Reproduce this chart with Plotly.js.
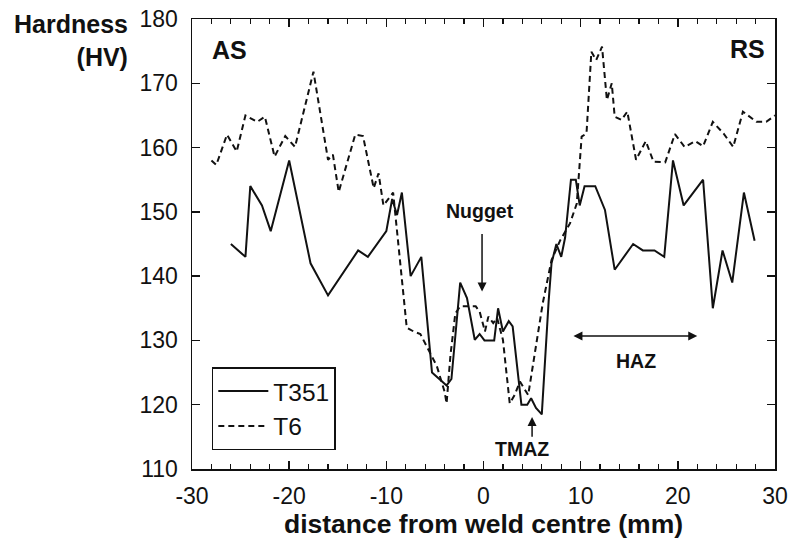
<!DOCTYPE html>
<html>
<head>
<meta charset="utf-8">
<script src="https://cdn.plot.ly/plotly-3.0.1.min.js"></script>
<style>html,body{margin:0;padding:0;background:#fff}#chart{width:795px;height:545px}</style>
</head>
<body>
<div id="chart"></div>
<script>
// T351 series
const t351X = [-26, -24.5, -24, -22.8, -21.9, -20, -17.8, -16, -12.9, -11.9, -10, -9.4, -8.9, -8.4, -7.5, -6.4, -5.3, -4.5, -3.8, -3.3, -2.4, -1.7, -0.9, -0.4, 0.1, 1.1, 1.5, 2.0, 2.6, 3.0, 3.9, 4.5, 4.9, 5.4, 6.0, 6.7, 7.0, 7.5, 8.0, 8.4, 9.0, 9.5, 9.9, 10.4, 11.5, 12.5, 13.5, 15.4, 16.4, 17.6, 18.6, 19.5, 20.6, 22.6, 23.6, 24.6, 25.6, 26.8, 27.9];
const t351Y = [145, 143, 154, 151, 147, 158, 142, 137, 144, 143, 147, 152, 149.5, 153, 140, 143, 125, 124, 123, 124, 139, 136.6, 130.1, 131, 130, 130, 135, 131.4, 133, 132.2, 120, 120, 121, 119.5, 118.5, 136, 142, 145, 143, 146, 155, 155, 151, 154, 154, 150.3, 141, 145, 144, 144, 143, 158, 151, 155, 135, 144, 139, 153, 145.5];
// T6 series
const t6X = [-28, -27.5, -26.4, -25.4, -24.5, -23.3, -22.5, -21.5, -20.4, -19.4, -17.5, -16.0, -15.5, -14.9, -13.2, -12.4, -11.3, -10.8, -10.3, -9.3, -7.9, -7.2, -6.5, -5.9, -4.8, -4.0, -3.8, -3.4, -2.9, -2.4, -0.8, -0.4, 0.15, 0.5, 1.0, 1.4, 2.0, 2.7, 3.2, 3.75, 4.6, 6.1, 7.0, 7.9, 8.4, 8.9, 9.6, 10.1, 10.6, 11.1, 11.6, 12.2, 12.7, 13.2, 13.5, 14.2, 14.8, 15.7, 16.7, 17.5, 18.7, 19.7, 20.7, 21.8, 22.6, 23.6, 24.7, 25.7, 26.7, 28.1, 29.1, 30];
const t6Y = [158, 157.3, 162, 159.4, 165, 164, 164.8, 158.6, 161.8, 160.1, 171.8, 158.1, 158.9, 153.1, 162, 161.8, 153.7, 156, 151, 153, 132, 131.4, 131, 129.3, 126, 122, 120.2, 127.7, 134.2, 135.3, 135.3, 134.5, 131.4, 133.7, 132.7, 133.5, 130.1, 120.2, 121.5, 123.6, 121.5, 135.8, 142.5, 145.6, 147, 148.2, 151.3, 161.7, 162.2, 174.9, 173.6, 175.7, 167.4, 170, 164.8, 164.3, 165.6, 158.1, 161, 157.8, 157.7, 162.1, 160.1, 161, 160.2, 164, 162.2, 160.1, 165.6, 164, 164, 165];
const seriesNames = ["T351", "T6"];
const xTickVals = [-30, -20, -10, 0, 10, 20, 30];
const yTickVals = [110, 120, 130, 140, 150, 160, 170, 180];
const xRange = [-30, 30];
const yRange = [110, 180];

const FONT = "Liberation Sans, Arial, Helvetica, sans-serif";

const traces = [
  {x: t351X, y: t351Y, name: seriesNames[0], type: "scatter", mode: "lines",
   line: {color: "#111", width: 2}},
  {x: t6X, y: t6Y, name: seriesNames[1], type: "scatter", mode: "lines",
   line: {color: "#111", width: 2, dash: "6px,4px"}},
  // empty trace only to bind the mirrored top/right frame axes
  {x: [], y: [], xaxis: "x2", yaxis: "y2", type: "scatter", mode: "lines",
   showlegend: false, hoverinfo: "skip"}
];

const axisCommon = {
  showline: true, linecolor: "#111", linewidth: 1.5,
  ticks: "inside", ticklen: 8, tickwidth: 1.5, tickcolor: "#111",
  showgrid: false, zeroline: false,
  tickfont: {family: FONT, size: 23, color: "#111"}
};
const xMinor = {dtick: 2, ticks: "inside", ticklen: 5, tickwidth: 1.2, tickcolor: "#111", showgrid: false};

const layout = {
  width: 795, height: 545,
  margin: {l: 192, r: 20, t: 19, b: 76},
  paper_bgcolor: "#fff", plot_bgcolor: "#fff",
  font: {family: FONT, color: "#111"},
  xaxis: Object.assign({}, axisCommon, {
    range: xRange, tickvals: xTickVals, ticktext: xTickVals.map(String),
    minor: xMinor,
    ticklabelstandoff: 6,
    title: {text: "distance from weld centre (mm)", font: {family: FONT, size: 26.5, weight: "bold", color: "#111"}, standoff: 3}
  }),
  xaxis2: Object.assign({}, axisCommon, {
    overlaying: "x", side: "top", range: xRange, tickvals: xTickVals,
    minor: xMinor, showticklabels: false
  }),
  yaxis: Object.assign({}, axisCommon, {
    range: yRange, tickvals: yTickVals, ticktext: yTickVals.map(String),
    ticklabelstandoff: 8
  }),
  yaxis2: Object.assign({}, axisCommon, {
    overlaying: "y", side: "right", range: yRange, tickvals: yTickVals,
    showticklabels: false
  }),
  showlegend: true,
  legend: {
    x: 0.034, y: 0.042, xanchor: "left", yanchor: "bottom",
    bordercolor: "#111", borderwidth: 1.5, bgcolor: "#fff",
    font: {family: FONT, size: 24.5, color: "#111"},
    itemwidth: 50, tracegroupgap: 0
  },
  annotations: [
    {xref: "paper", yref: "paper", x: -0.107, y: 1.025, xanchor: "right", yanchor: "top", align: "right",
     text: "Hardness<br>(HV)", showarrow: false, font: {family: FONT, size: 25, weight: "bold"}},
    {x: -26.1, y: 175.2, text: "AS", showarrow: false, font: {family: FONT, size: 25, weight: "bold"}},
    {x: 27.2, y: 175.3, text: "RS", showarrow: false, font: {family: FONT, size: 25, weight: "bold"}},
    {x: -0.36, y: 150.1, text: "Nugget", showarrow: false, font: {family: FONT, size: 19.5, weight: "bold"}},
    {x: -0.15, y: 137.6, ax: -0.15, ay: 146.8, axref: "x", ayref: "y", text: "", showarrow: true,
     arrowhead: 2, arrowsize: 1.2, arrowwidth: 1.5, arrowcolor: "#111"},
    {x: 3.96, y: 113.1, text: "TMAZ", showarrow: false, font: {family: FONT, size: 19.5, weight: "bold"}},
    {x: 5.0, y: 118.1, ax: 5.0, ay: 114.8, axref: "x", ayref: "y", text: "", showarrow: true,
     arrowhead: 2, arrowsize: 1.2, arrowwidth: 1.5, arrowcolor: "#111"},
    {x: 22.0, y: 130.7, ax: 9.1, ay: 130.7, axref: "x", ayref: "y", text: "", showarrow: true,
     arrowside: "end+start", arrowhead: 2, arrowsize: 1.2, arrowwidth: 1.5, arrowcolor: "#111"},
    {x: 15.7, y: 126.8, text: "HAZ", showarrow: false, font: {family: FONT, size: 19.5, weight: "bold"}}
  ]
};

Plotly.newPlot("chart", traces, layout, {staticPlot: true, displayModeBar: false});
</script>
</body>
</html>
